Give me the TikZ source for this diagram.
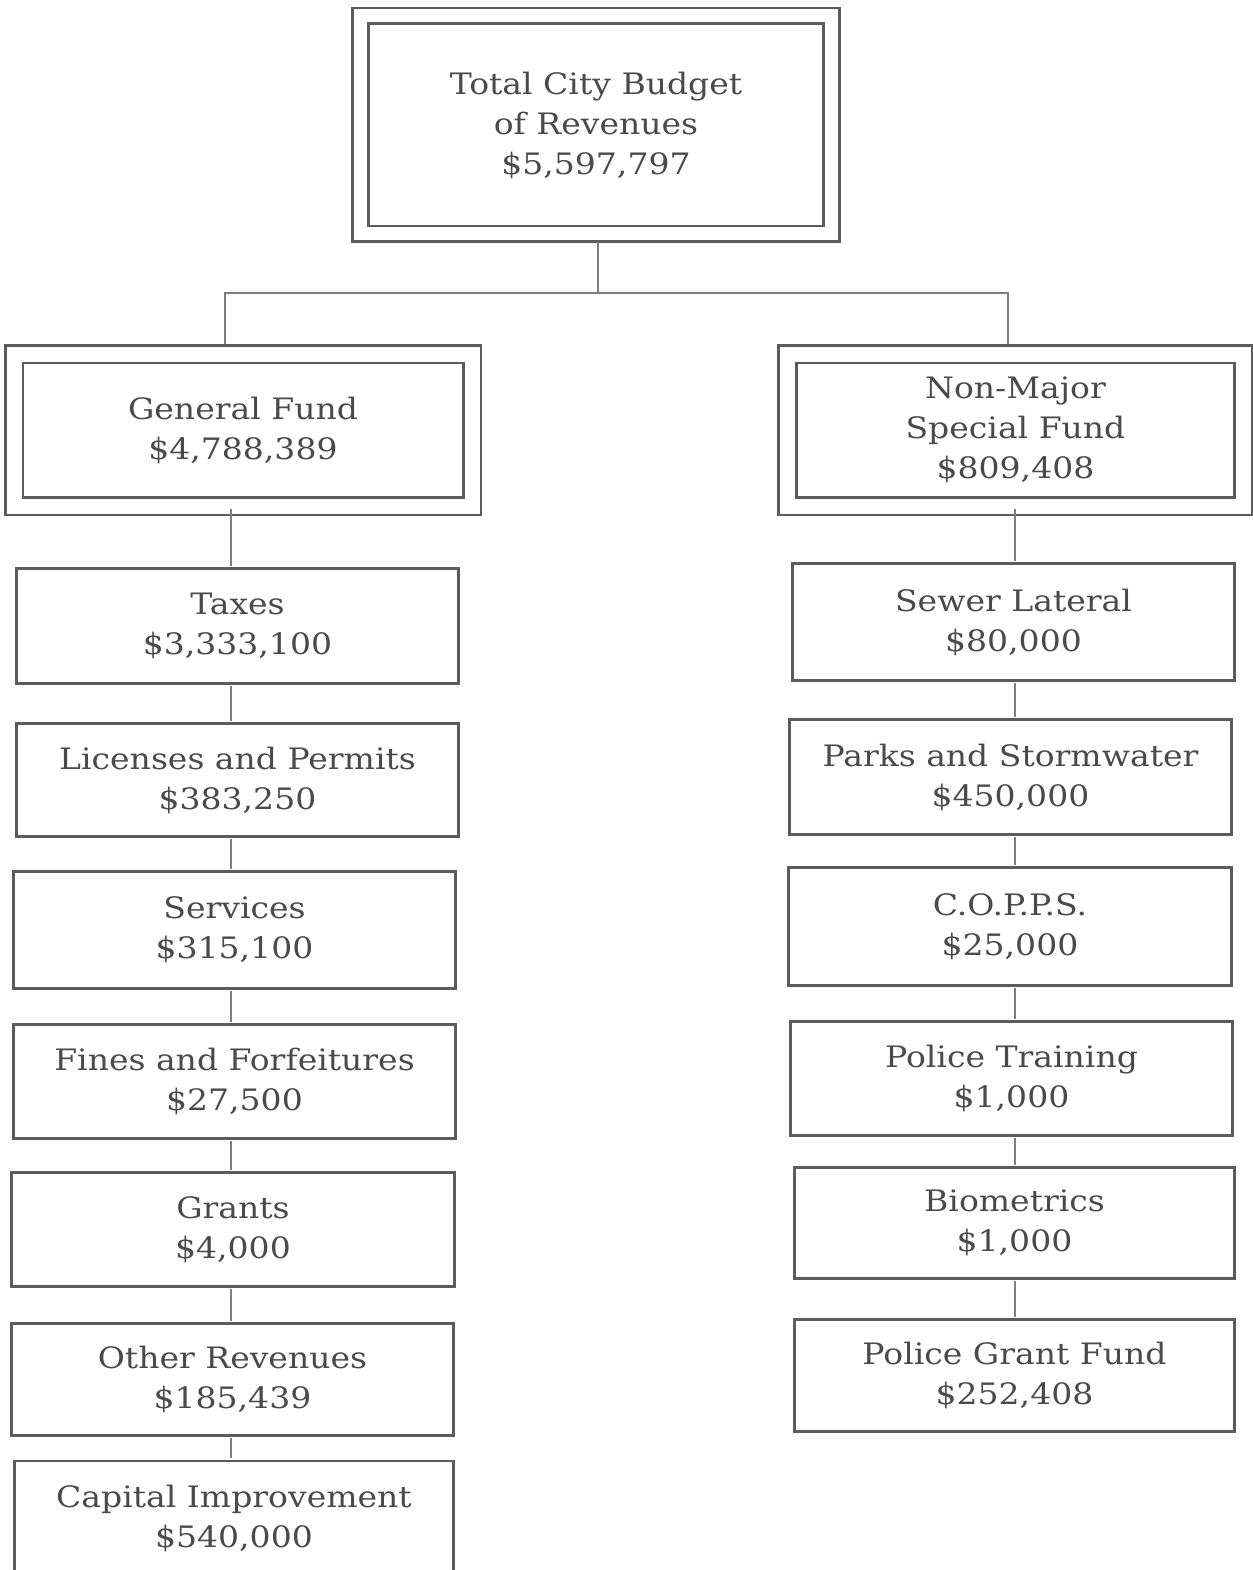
\documentclass[tikz,border=0pt]{standalone}
\usepackage{fontspec}
\setmainfont[FakeStretch=1.12]{DejaVu Serif}
\definecolor{boxline}{HTML}{5C5C5C}
\definecolor{conline}{HTML}{7E7E7E}
\definecolor{txt}{HTML}{4A4A4A}
\begin{document}
\begin{tikzpicture}[x=1pt,y=-1pt,
  lbl/.style={align=center,text=txt,inner sep=0pt,font=\fontsize{29.5}{40}\selectfont},
  box/.style={lbl,draw=boxline,line width=2.8pt,rectangle},
  dbox/.style={lbl,draw=boxline,line width=2.8pt,double=white,double distance=#1,rectangle},
  dbox/.default=13pt,
  con/.style={draw=conline,line width=2pt}]
\useasboundingbox[fill=white] (0,0) rectangle (1252,1570);
% top
\node[dbox=13pt,minimum width=471pt,minimum height=218pt] (top) at (596,125) {Total City Budget\\of Revenues\\\$5,597,797};
% funds
\node[dbox=15pt,minimum width=458pt,minimum height=152pt] (gf) at (243,430) {General Fund\\\$4,788,389};
\node[dbox=15pt,minimum width=456pt,minimum height=152pt] (nm) at (1015.5,430) {Non-Major\\Special Fund\\\$809,408};
% left column
\node[box,minimum width=442pt,minimum height=115pt] (tax) at (237.5,626) {Taxes\\\$3,333,100};
\node[box,minimum width=442pt,minimum height=113pt] (lic) at (237.5,780) {Licenses and Permits\\\$383,250};
\node[box,minimum width=442pt,minimum height=117pt] (svc) at (234.5,930) {Services\\\$315,100};
\node[box,minimum width=442pt,minimum height=114pt] (fin) at (234.5,1081.5) {Fines and Forfeitures\\\$27,500};
\node[box,minimum width=443pt,minimum height=114pt] (gra) at (233,1229.5) {Grants\\\$4,000};
\node[box,minimum width=442pt,minimum height=112pt] (oth) at (232.5,1379.5) {Other Revenues\\\$185,439};
\node[box,minimum width=439pt,minimum height=114pt] (cap) at (234,1518) {Capital Improvement\\\$540,000};
% right column
\node[box,minimum width=442pt,minimum height=117pt] (sew) at (1013.5,622) {Sewer Lateral\\\$80,000};
\node[box,minimum width=442pt,minimum height=115pt] (prk) at (1010.5,777) {Parks and Stormwater\\\$450,000};
\node[box,minimum width=443pt,minimum height=118pt] (cop) at (1010,926.5) {C.O.P.P.S.\\\$25,000};
\node[box,minimum width=442pt,minimum height=114pt] (ptr) at (1011.5,1078.5) {Police Training\\\$1,000};
\node[box,minimum width=440pt,minimum height=111pt] (bio) at (1014.5,1223) {Biometrics\\\$1,000};
\node[box,minimum width=440pt,minimum height=112pt] (pgf) at (1014.5,1375.5) {Police Grant Fund\\\$252,408};
% connector guides
\coordinate (j) at (598,293);
\coordinate (gx) at (225,0);
\coordinate (nx) at (1008,0);
\coordinate (lx) at (231,0);
\coordinate (rx) at (1015,0);
\draw[con] (top.south -| j) ++(0,7) -- (j);
\draw[con] ([yshift=9pt]gf.north -| gx) |- (j) -| ([yshift=9pt]nm.north -| nx);
\foreach \a/\b in {gf/tax,tax/lic,lic/svc,svc/fin,fin/gra,gra/oth,oth/cap}{
  \draw[con,shorten <=1.4pt,shorten >=1.4pt] (\a.south -| lx) -- (\b.north -| lx);
}
\foreach \a/\b in {nm/sew,sew/prk,prk/cop,cop/ptr,ptr/bio,bio/pgf}{
  \draw[con,shorten <=1.4pt,shorten >=1.4pt] (\a.south -| rx) -- (\b.north -| rx);
}
\end{tikzpicture}
\end{document}
